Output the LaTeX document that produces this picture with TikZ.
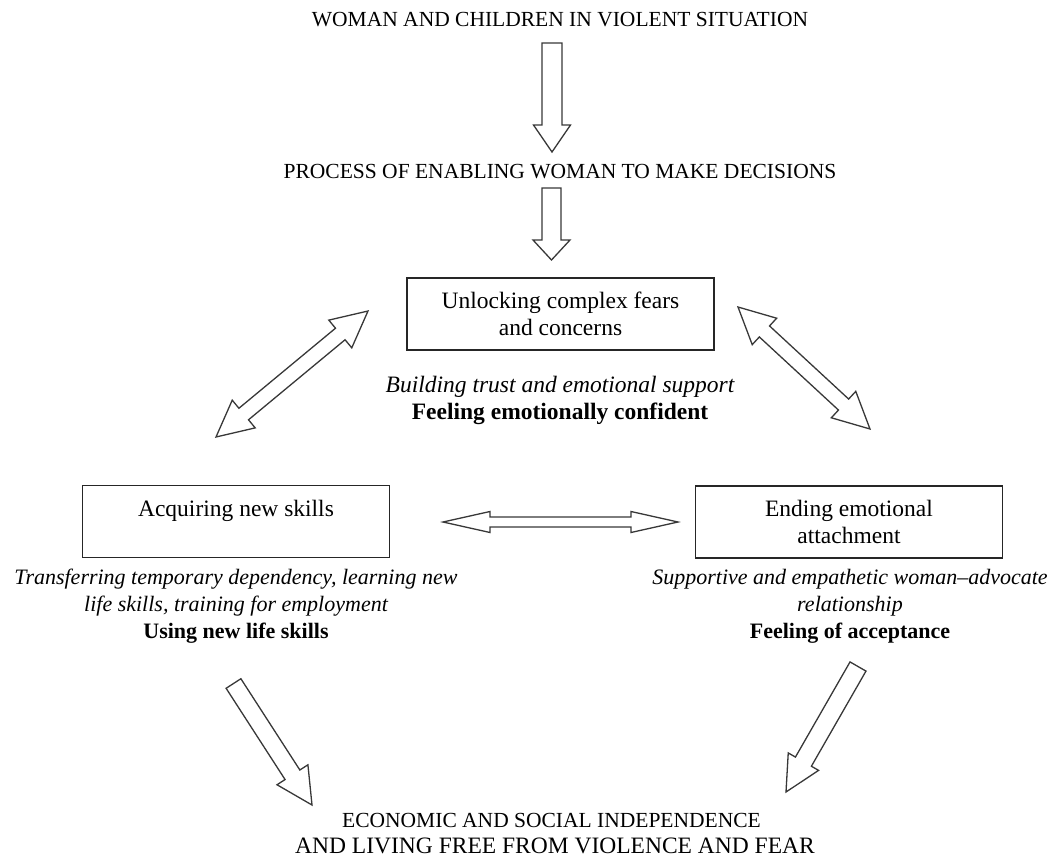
\documentclass[tikz,border=0pt]{standalone}
\usepackage{fontspec}
\setmainfont{Liberation Serif}
\usetikzlibrary{calc}
\newcommand\myBody{\fontsize{23.5}{27}\selectfont}
\newcommand\mySide{\fontsize{22}{27}\selectfont}
\newcommand\myCaps{\fontsize{21.5}{25}\selectfont}
\newcommand\myCapsB{\fontsize{23.5}{27}\selectfont}
\tikzset{
  blockarrow/.style={draw=black!78, line width=1.3pt, fill=white, line join=miter},
  boxnode/.style={draw=black!85, line width=1.3pt, minimum width=307pt, minimum height=72pt,
                  align=center, inner sep=0pt, font=\myBody},
  body/.style={font=\myBody, inner sep=0pt, anchor=base},
  side/.style={font=\mySide, inner sep=0pt, anchor=base},
  caps/.style={font=\myCaps, inner sep=0pt, anchor=base},
}
% single block arrow: #1 start, #2 end, #3 shaft half width, #4 head half width, #5 head length
\newcommand\sArrow[5]{%
  \draw[blockarrow] let \p1=(#1), \p2=(#2), \n1={atan2(\y2-\y1,\x2-\x1)},
    \n2={veclen(\x2-\x1,\y2-\y1)} in [shift={(\p1)}, rotate=\n1]
    (0,-#3) -- (\n2-#5,-#3) -- (\n2-#5,-#4) -- (\n2,0) -- (\n2-#5,#4) -- (\n2-#5,#3) -- (0,#3) -- cycle;}
% double block arrow
\newcommand\dArrow[5]{%
  \draw[blockarrow] let \p1=(#1), \p2=(#2), \n1={atan2(\y2-\y1,\x2-\x1)},
    \n2={veclen(\x2-\x1,\y2-\y1)} in [shift={(\p1)}, rotate=\n1]
    (0,0) -- (#5,-#4) -- (#5,-#3) -- (\n2-#5,-#3) -- (\n2-#5,-#4) -- (\n2,0)
    -- (\n2-#5,#4) -- (\n2-#5,#3) -- (#5,#3) -- (#5,#4) -- cycle;}
\begin{document}
\begin{tikzpicture}[x=1pt, y=-1pt]
  \useasboundingbox (0,0) rectangle (1050,857);

  % texts
  \node[caps] (title) at (560,26) {WOMAN AND CHILDREN IN VIOLENT SITUATION};
  \node[caps] (process) at (560,178) {PROCESS OF ENABLING WOMAN TO MAKE DECISIONS};

  % boxes
  \node[boxnode] (unlock) at (560.5,314) {Unlocking complex fears\\and concerns};
  \node[boxnode] (acquire) at (236,521.5) {Acquiring new skills\\\phantom{X}};
  \node[boxnode] (ending) at (849,522) {Ending emotional\\attachment};

  % middle texts
  \node[body] (trust) at (560,392) {\itshape Building trust and emotional support};
  \node[body] (confident) at (560,419) {\bfseries Feeling emotionally confident};

  % left texts
  \node[side] (l1) at (236,584) {\itshape Transferring temporary dependency, learning new};
  \node[side] (l2) at (236,611) {\itshape life skills, training for employment};
  \node[side] (l3) at (236,638) {\bfseries Using new life skills};

  % right texts
  \node[side] (r1) at (850,584) {\itshape Supportive and empathetic woman--advocate};
  \node[side] (r2) at (850,611) {\itshape relationship};
  \node[side] (r3) at (850,638) {\bfseries Feeling of acceptance};

  % bottom
  \node[caps] (econ) at (551.5,827) {ECONOMIC AND SOCIAL INDEPENDENCE};
  \node[body, font=\myCapsB] (free) at (555,853) {AND LIVING FREE FROM VIOLENCE AND FEAR};

  % arrow end points
  \coordinate (a1s) at (552,43);   \coordinate (a1e) at (552,152);
  \coordinate (a2s) at (551.5,188); \coordinate (a2e) at (551.5,260);
  \coordinate (dls) at (216,437);  \coordinate (dle) at (368,311);
  \coordinate (drs) at (738,307);  \coordinate (dre) at (870,429);
  \coordinate (hs) at (443,522);   \coordinate (he) at (678,522);
  \coordinate (bls) at (233.5,683.5); \coordinate (ble) at (312,805);
  \coordinate (brs) at (858,666.5);   \coordinate (bre) at (786,792);

  \sArrow{a1s}{a1e}{10}{18.5}{27}
  \sArrow{a2s}{a2e}{9.5}{18.5}{20}
  \dArrow{dls}{dle}{7.5}{18}{36}
  \dArrow{drs}{dre}{7.5}{18}{36}
  \dArrow{hs}{he}{5}{10.5}{47}
  \sArrow{bls}{ble}{8.8}{18.4}{36}
  \sArrow{brs}{bre}{9.2}{17.5}{35}
\end{tikzpicture}
\end{document}
